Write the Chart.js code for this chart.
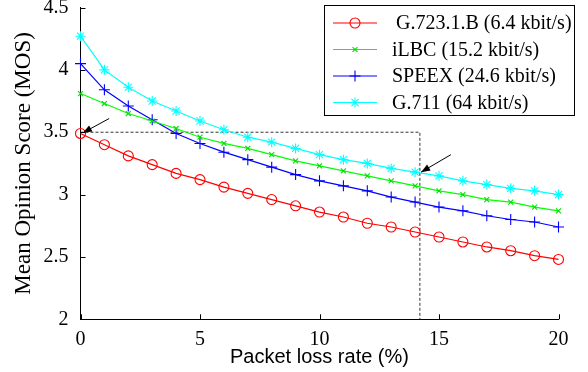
<!DOCTYPE html>
<html>
<head>
<meta charset="utf-8">
<script src="https://cdn.jsdelivr.net/npm/chart.js@4.4.0/dist/chart.umd.min.js"></script>
<style>
html,body{margin:0;padding:0;background:#fff;}
#wrap{width:588px;height:372px;}
</style>
</head>
<body>
<div id="wrap"><canvas id="mycanvas" width="588" height="372"></canvas></div>
<script>
// packet loss (%) and MOS per codec
var lossRate = [0,1,2,3,4,5,6,7,8,9,10,11,12,13,14,15,16,17,18,19,20];
var g7231b = [3.49,3.40,3.31,3.24,3.17,3.12,3.06,3.01,2.96,2.91,2.86,2.82,2.77,2.74,2.70,2.66,2.62,2.58,2.55,2.51,2.48];
var ilbc   = [3.81,3.73,3.65,3.59,3.53,3.46,3.41,3.37,3.32,3.27,3.23,3.19,3.15,3.11,3.07,3.03,3.00,2.96,2.94,2.90,2.87];
var speex  = [4.05,3.84,3.71,3.60,3.49,3.41,3.34,3.28,3.22,3.16,3.11,3.07,3.03,2.98,2.94,2.90,2.87,2.83,2.80,2.78,2.74];
var g711   = [4.27,4.00,3.86,3.75,3.67,3.59,3.52,3.46,3.42,3.37,3.32,3.28,3.25,3.21,3.18,3.15,3.11,3.08,3.05,3.03,3.00];
var seriesNames = ['G.723.1.B (6.4 kbit/s)','iLBC (15.2 kbit/s)','SPEEX (24.6 kbit/s)','G.711 (64 kbit/s)'];
var xTicks = [0,5,10,15,20];
var yTicks = [2,2.5,3,3.5,4,4.5];
// dashed guide box
var guideX = [0,14.2,14.2];
var guideY = [3.5,3.5,2];
// annotation arrows (data coords)
var arrowFromX = [1.2,15.5];
var arrowFromY = [3.61,3.32];
var arrowToX = [0.1,14.25];
var arrowToY = [3.495,3.18];

function pts(ys){
	return lossRate.map(function(x,i){ return {x:x, y:ys[i]}; });
}

var serif = "'Liberation Serif', 'Times New Roman', serif";

var lineDefaults = {showLine:true, borderWidth:1.2, tension:0, clip:false, pointBorderWidth:1.1, pointHoverRadius:0};

var datasets = [
	Object.assign({label:seriesNames[0], data:pts(g7231b), borderColor:'#ff0000', pointBorderColor:'#ff0000', pointBackgroundColor:'rgba(0,0,0,0)', pointStyle:'circle', pointRadius:5}, lineDefaults),
	Object.assign({label:seriesNames[1], data:pts(ilbc), borderColor:'#00ff00', pointBorderColor:'#00dd00', pointStyle:'crossRot', pointRadius:3.5}, lineDefaults),
	Object.assign({label:seriesNames[2], data:pts(speex), borderColor:'#0000ff', pointBorderColor:'#0000ff', pointStyle:'cross', pointRadius:5.5}, lineDefaults),
	Object.assign({label:seriesNames[3], data:pts(g711), borderColor:'#00ffff', pointBorderColor:'#00ffff', pointStyle:'star', pointRadius:5}, lineDefaults),
	{label:'guide', data:guideX.map(function(x,i){return {x:x,y:guideY[i]};}), showLine:true, borderColor:'#333', borderWidth:1, borderDash:[3,2], pointRadius:0, clip:false, tension:0}
];

var extras = {
	id:'extras',
	afterDraw: function(chart){
		var ctx = chart.ctx, xs = chart.scales.x, ys = chart.scales.y, a = chart.chartArea;
		ctx.save();
		// inward ticks
		ctx.strokeStyle = '#000'; ctx.lineWidth = 1;
		ctx.beginPath();
		yTicks.forEach(function(v){
			var py = Math.round(ys.getPixelForValue(v)) + 0.5;
			ctx.moveTo(a.left, py); ctx.lineTo(a.left + 5, py);
		});
		xTicks.forEach(function(v){
			var px = Math.round(xs.getPixelForValue(v)) + 0.5;
			ctx.moveTo(px, a.bottom); ctx.lineTo(px, a.bottom - 5);
		});
		ctx.stroke();
		// arrows
		for (var i = 0; i < arrowFromX.length; i++){
			var x1 = xs.getPixelForValue(arrowFromX[i]), y1 = ys.getPixelForValue(arrowFromY[i]);
			var x2 = xs.getPixelForValue(arrowToX[i]), y2 = ys.getPixelForValue(arrowToY[i]);
			var ang = Math.atan2(y2 - y1, x2 - x1);
			ctx.beginPath(); ctx.moveTo(x1, y1); ctx.lineTo(x2, y2); ctx.stroke();
			ctx.beginPath();
			ctx.moveTo(x2, y2);
			ctx.lineTo(x2 - 9*Math.cos(ang) + 3.5*Math.sin(ang), y2 - 9*Math.sin(ang) - 3.5*Math.cos(ang));
			ctx.lineTo(x2 - 9*Math.cos(ang) - 3.5*Math.sin(ang), y2 - 9*Math.sin(ang) + 3.5*Math.cos(ang));
			ctx.closePath(); ctx.fillStyle = '#000'; ctx.fill();
		}
		// legend box
		var bx = 324.5, by = 5.5, bw = 250, bh = 110;
		ctx.fillStyle = '#fff'; ctx.fillRect(bx, by, bw, bh);
		ctx.strokeStyle = '#000'; ctx.strokeRect(bx, by, bw, bh);
		ctx.font = '20px ' + serif; ctx.textBaseline = 'middle'; ctx.textAlign = 'left';
		for (var j = 0; j < 4; j++){
			var ds = chart.data.datasets[j];
			var ry = 23 + j*26.5;
			ctx.strokeStyle = ds.borderColor; ctx.lineWidth = 1.2;
			ctx.beginPath(); ctx.moveTo(333, ry); ctx.lineTo(377, ry); ctx.stroke();
			ctx.strokeStyle = ds.pointBorderColor; ctx.fillStyle = 'rgba(0,0,0,0)'; ctx.lineWidth = 1.1;
			Chart.helpers.drawPoint(ctx, {pointStyle:ds.pointStyle, radius:ds.pointRadius, rotation:0, borderWidth:1.1}, 355, ry);
			ctx.fillStyle = '#000';
			ctx.fillText(ds.label, j === 0 ? 396 : 392, ry + 1);
		}
		ctx.restore();
	}
};

var ctx = document.getElementById('mycanvas');
var chart = new Chart(ctx, {
	type: 'scatter',
	data: {datasets: datasets},
	options: {
		responsive: false,
		animation: false,
		devicePixelRatio: 1,
		layout: {padding: {left:0, top:7.5, right:29.5, bottom:0}},
		plugins: {legend:{display:false}, tooltip:{enabled:false}},
		scales: {
			x: {
				type:'linear', min:0, max:20,
				afterBuildTicks: function(s){ s.ticks = xTicks.map(function(v){return {value:v};}); },
				afterFit: function(s){ s.height = 52.7; s.paddingLeft = 0; s.paddingRight = 0; },
				grid:{display:false},
				border:{display:true, color:'#000', width:1},
				ticks:{color:'#000', font:{family:serif, size:20}, padding:0, maxRotation:0, callback:function(v){ return String(v); }},
				title:{display:true, text:'Packet loss rate (%)', color:'#000', font:{family:"'Liberation Sans', Arial, sans-serif", size:20}, padding:{top:0, bottom:3}}
			},
			y: {
				type:'linear', min:2, max:4.5,
				afterBuildTicks: function(s){ s.ticks = yTicks.map(function(v){return {value:v};}); },
				afterFit: function(s){ s.width = 80.5; s.paddingTop = 0; s.paddingBottom = 0; },
				grid:{display:false},
				border:{display:true, color:'#000', width:1},
				ticks:{color:'#000', font:{family:serif, size:20}, padding:4, callback:function(v){ return String(v); }},
				title:{display:true, text:'Mean Opinion Score (MOS)', color:'#000', font:{family:serif, size:23}, padding:{top:10, bottom:0}}
			}
		}
	},
	plugins: [extras]
});
</script>
</body>
</html>
